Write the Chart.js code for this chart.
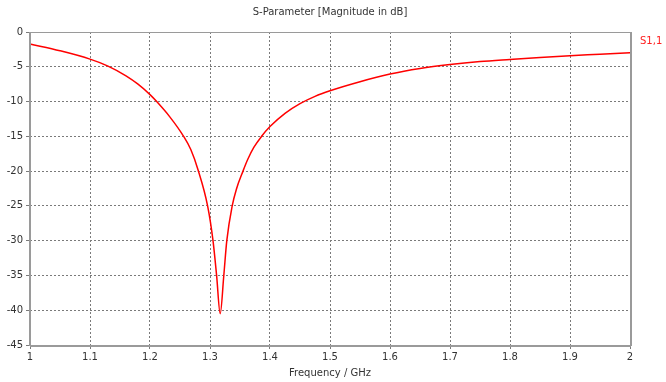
<!DOCTYPE html>
<html>
<head>
<meta charset="utf-8">
<script src="https://cdn.jsdelivr.net/npm/chart.js@4/dist/chart.umd.min.js"></script>
<style>
  html, body { margin: 0; padding: 0; background: #ffffff; }
  #wrap { width: 666px; height: 382px; position: relative; }
</style>
</head>
<body>
<div id="wrap"><canvas id="c" width="666" height="382"></canvas></div>
<script>
// Frequencies (GHz) and S1,1 magnitude (dB)
const freqGHz = [1.00, 1.05, 1.10, 1.13, 1.16, 1.18, 1.20, 1.21, 1.233, 1.256, 1.268, 1.28, 1.296, 1.305, 1.311, 1.317,
                 1.323, 1.328, 1.337, 1.344, 1.355, 1.363, 1.373, 1.386, 1.40, 1.425, 1.45, 1.475, 1.50, 1.55, 1.60, 1.65, 1.70, 1.75, 1.80, 1.85, 1.90, 1.95, 2.00];
const s11dB   = [-1.73, -2.7, -3.9, -4.9, -6.3, -7.5, -9.0, -9.9, -12.2, -15.0, -16.9, -19.8, -25.0, -30.0, -35.0, -40.5,
                 -35.0, -30.0, -25.0, -22.6, -20.0, -18.3, -16.6, -15.0, -13.6, -11.7, -10.3, -9.25, -8.45, -7.15, -6.05, -5.25, -4.68, -4.25, -3.94, -3.65, -3.41, -3.2, -2.98];
const xTicks = [1, 1.1, 1.2, 1.3, 1.4, 1.5, 1.6, 1.7, 1.8, 1.9, 2];
const yTicks = [0, -5, -10, -15, -20, -25, -30, -35, -40, -45];
const seriesName = 'S1,1';
const chartTitle = 'S-Parameter [Magnitude in dB]';
const xTitle = 'Frequency / GHz';

const FONT = 'DejaVu Sans';
const TXT = '#333333';

const points = freqGHz.map((f, i) => ({ x: f, y: s11dB[i] }));

const framePlugin = {
  id: 'frame',
  afterDraw(chart) {
    const { ctx, chartArea: a } = chart;
    ctx.save();
    ctx.strokeStyle = '#9a9a9a';
    ctx.lineWidth = 1;
    ctx.strokeRect(a.left + 0.5, a.top + 0.5, a.right - a.left, a.bottom - a.top);
    ctx.lineWidth = 2;
    ctx.beginPath();
    ctx.moveTo(a.left, a.bottom + 1);
    ctx.lineTo(a.right + 1, a.bottom + 1);
    ctx.moveTo(a.right + 1, a.top);
    ctx.lineTo(a.right + 1, a.bottom + 1);
    ctx.moveTo(a.left, a.top);
    ctx.lineTo(a.left, a.bottom + 1);
    ctx.stroke();
    // title
    ctx.fillStyle = TXT;
    ctx.font = '10px "' + FONT + '"';
    ctx.textAlign = 'center';
    ctx.textBaseline = 'middle';
    ctx.fillText(chartTitle, (a.left + a.right) / 2, 12);
    // series label
    ctx.fillStyle = '#ff2020';
    ctx.textAlign = 'left';
    ctx.fillText(seriesName, a.right + 10, 41);
    ctx.restore();
  }
};

new Chart(document.getElementById('c'), {
  type: 'scatter',
  data: {
    datasets: [{
      label: seriesName,
      data: points,
      showLine: true,
      borderColor: '#ff0000',
      borderWidth: 1.5,
      pointRadius: 0,
      cubicInterpolationMode: 'monotone',
      clip: false
    }]
  },
  options: {
    responsive: false,
    animation: false,
    devicePixelRatio: 1,
    layout: { padding: { top: 32, right: 36, left: 0, bottom: 0 } },
    plugins: { legend: { display: false }, tooltip: { enabled: false }, title: { display: false } },
    scales: {
      x: {
        type: 'linear',
        min: 1, max: 2,
        afterBuildTicks(scale) { scale.ticks = xTicks.map(v => ({ value: v })); },
        afterFit(scale) { scale.height = 37; },
        grid: { color: '#7a7a7a', lineWidth: 1, tickLength: 4, tickBorderDash: [] },
        border: { display: false, dash: [2, 2] },
        ticks: { color: TXT, font: { family: FONT, size: 10 }, padding: 2, maxRotation: 0, autoSkip: false,
                 callback: v => String(Math.round(v * 10) / 10) },
        title: { display: true, text: xTitle, color: TXT, font: { family: FONT, size: 10 }, padding: { top: 0, bottom: 3 } }
      },
      y: {
        type: 'linear',
        min: -45, max: 0,
        afterBuildTicks(scale) { scale.ticks = yTicks.map(v => ({ value: v })); },
        afterFit(scale) { scale.width = 30; },
        grid: { color: '#7a7a7a', lineWidth: 1, tickLength: 4, tickBorderDash: [] },
        border: { display: false, dash: [2, 2] },
        ticks: { color: TXT, font: { family: FONT, size: 10 }, padding: 3, autoSkip: false }
      }
    }
  },
  plugins: [framePlugin]
});
</script>
</body>
</html>
